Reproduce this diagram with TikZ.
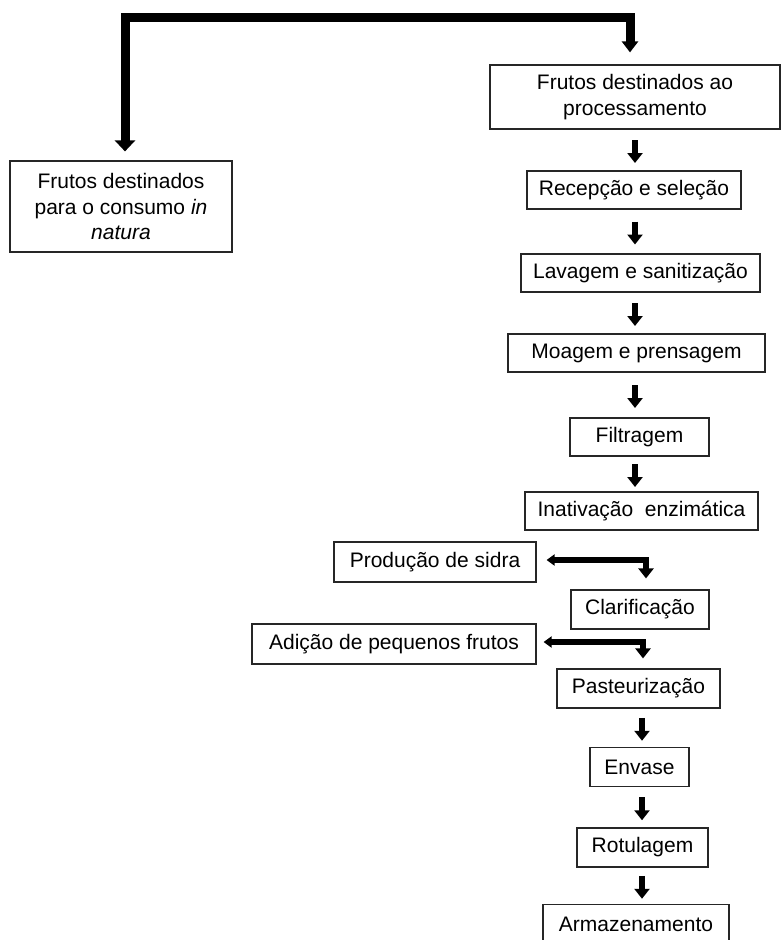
\documentclass[tikz,border=0pt]{standalone}
\usepackage{fontspec}
\setmainfont{Liberation Sans}
\usetikzlibrary{arrows.meta, positioning, calc}
\tikzstyle{block} = [rectangle, draw=black!85, line width=1.2pt, align=center, inner sep=0pt, font=\fontsize{21}{25.5}\selectfont, minimum height=38pt]
\tikzstyle{arrow} = [-{Triangle[width=15pt, length=10pt]}, line width=6.5pt]
\tikzstyle{bigarrow} = [{Triangle[width=20pt, length=11pt]}-{Triangle[width=16pt, length=11pt]}, line width=9pt]
\tikzstyle{sidearrow} = [{Triangle[width=11pt, length=8pt]}-{Triangle[width=15pt, length=10pt]}, line width=6pt]
% short arrow centred in the gap between two boxes
\newcommand{\steparrow}[3]{\draw[arrow] ($(#1.south -| #3)!0.5!(#2.north -| #3)$) ++(0,-10) -- ++(0,23);}

\begin{document}
\begin{tikzpicture}[x=1pt, y=-1pt]
    \useasboundingbox (0,0) rectangle (781,940);
    \coordinate (colA) at (635,0);
    \coordinate (colB) at (642,0);

    % Two destinations
    \node[block, minimum width=290pt, minimum height=64pt] (proc) at (635,97) {Frutos destinados ao\\processamento};
    \node[block, minimum width=222pt, minimum height=91pt] (natura) at (121,206.5) {Frutos destinados\\para o consumo \textit{in}\\\textit{natura}};

    \draw[bigarrow, shorten <=9pt, shorten >=12pt] ([xshift=4pt]natura.north) |- ([xshift=-5pt, yshift=47pt]proc.north) -- ([xshift=-5pt]proc.north);

    % Processing line
    \node[block, minimum width=214pt] (recep) at (634,190) {Recepção e seleção};
    \node[block, minimum width=239pt] (lavagem) at (640.5,273) {Lavagem e sanitização};
    \node[block, minimum width=257pt] (moagem) at (636.5,353) {Moagem e prensagem};
    \node[block, minimum width=139pt] (filtragem) at (639.5,437) {Filtragem};
    \node[block, minimum width=233pt] (inativ) at (641.5,511) {Inativação\ \ enzimática};

    \steparrow{proc}{recep}{colA}
    \steparrow{recep}{lavagem}{colA}
    \steparrow{lavagem}{moagem}{colA}
    \steparrow{moagem}{filtragem}{colA}
    \steparrow{filtragem}{inativ}{colA}

    % Side products
    \node[block, minimum width=202pt, minimum height=40pt] (sidra) at (435,562) {Produção de sidra};
    \node[block, minimum width=138pt, minimum height=39pt] (clarif) at (640,609.5) {Clarificação};
    \node[block, minimum width=284pt, minimum height=40pt] (adicao) at (394,644) {Adição de pequenos frutos};
    \node[block, minimum width=163pt, minimum height=39pt] (pasteur) at (638.5,688.5) {Pasteurização};

    \draw[sidearrow, shorten <=10pt, shorten >=11pt] ([yshift=2pt]sidra.east) -| ([xshift=6pt]clarif.north);
    \draw[sidearrow, shorten <=7pt, shorten >=10pt] ([yshift=2pt]adicao.east) -| ([xshift=4.5pt]pasteur.north);

    % Final steps
    \node[block, minimum width=99pt, minimum height=39pt] (envase) at (639.5,767) {Envase};
    \node[block, minimum width=131pt, minimum height=39pt] (rotulagem) at (642.5,847.5) {Rotulagem};
    \node[block, minimum width=186pt, minimum height=39pt] (armazen) at (636,924) {Armazenamento};

    \steparrow{pasteur}{envase}{colB}
    \steparrow{envase}{rotulagem}{colB}
    \steparrow{rotulagem}{armazen}{colB}
\end{tikzpicture}
\end{document}
